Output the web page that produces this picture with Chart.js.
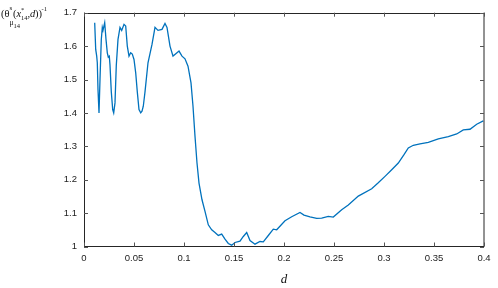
<!DOCTYPE html>
<html>
<head>
<meta charset="utf-8">
<script src="https://cdn.jsdelivr.net/npm/chart.js@4.4.1/dist/chart.umd.min.js"></script>
<style>
  html, body { margin: 0; padding: 0; background: #fff; }
  #wrap { width: 498px; height: 288px; position: relative; }
</style>
</head>
<body>
<div id="wrap"><canvas id="grafico"></canvas></div>
<script>
// distancia d
const dVals = [
  0.0107, 0.0117, 0.0127, 0.0133, 0.014, 0.015, 0.016, 0.0173, 0.0183, 0.019,
  0.0207, 0.022, 0.0233, 0.0243, 0.0253, 0.026, 0.0273, 0.0287, 0.0297, 0.031,
  0.0323, 0.034, 0.036, 0.0377, 0.040, 0.0417, 0.0433, 0.045, 0.0467, 0.0483,
  0.050, 0.0517, 0.0533, 0.055, 0.0567, 0.058, 0.0593, 0.061, 0.064, 0.068,
  0.071, 0.074, 0.078, 0.081, 0.083, 0.086, 0.089, 0.093, 0.095, 0.098,
  0.101, 0.104, 0.107, 0.109, 0.111, 0.113, 0.115, 0.118, 0.121, 0.1243, 0.1277,
  0.131, 0.1343, 0.1377, 0.141, 0.1443, 0.1477, 0.151, 0.156, 0.1593, 0.1627,
  0.166, 0.171, 0.176, 0.1793, 0.1843, 0.1893, 0.1927, 0.201, 0.2077, 0.216,
  0.220, 0.226, 0.2327, 0.2377, 0.2443, 0.2493, 0.2577, 0.2643, 0.2743, 0.2877,
  0.294, 0.301, 0.3077, 0.3143, 0.320, 0.3243, 0.3293, 0.336, 0.3443, 0.3543,
  0.3643, 0.3727, 0.3793, 0.386, 0.3927, 0.3993
];
// (theta^s(x*,d))^-1
const thetaInv = [
  1.67, 1.59, 1.57, 1.55, 1.47, 1.40, 1.50, 1.62, 1.656, 1.647,
  1.67, 1.62, 1.58, 1.567, 1.57, 1.543, 1.463, 1.41, 1.40, 1.43,
  1.543, 1.62, 1.656, 1.647, 1.665, 1.66, 1.60, 1.57, 1.58, 1.576,
  1.56, 1.52, 1.463, 1.41, 1.40, 1.405, 1.42, 1.463, 1.55, 1.605,
  1.656, 1.647, 1.65, 1.668, 1.656, 1.60, 1.57, 1.58, 1.585, 1.57,
  1.562, 1.54, 1.49, 1.42, 1.33, 1.25, 1.19, 1.14, 1.105, 1.065, 1.05,
  1.042, 1.033, 1.037, 1.022, 1.009, 1.004, 1.012, 1.016, 1.03, 1.042,
  1.018, 1.007, 1.015, 1.014, 1.033, 1.052, 1.05, 1.077, 1.089, 1.102,
  1.094, 1.089, 1.084, 1.085, 1.09, 1.088, 1.11, 1.124, 1.151, 1.173,
  1.19, 1.21, 1.23, 1.25, 1.275, 1.295, 1.303, 1.307, 1.312, 1.322,
  1.329, 1.337, 1.349, 1.351, 1.366, 1.376
];
const xTicks = [0, 0.05, 0.1, 0.15, 0.2, 0.25, 0.3, 0.35, 0.4];
const yTicks = [1, 1.1, 1.2, 1.3, 1.4, 1.5, 1.6, 1.7];

const fonteEixo = { family: 'Liberation Sans', size: 9.5 };

// caixa, ticks para dentro e rótulos
const moldura = {
  id: 'moldura',
  afterDraw(chart) {
    const ctx = chart.ctx;
    const a = chart.chartArea;
    const sx = chart.scales.x, sy = chart.scales.y;
    ctx.save();
    ctx.strokeStyle = '#262626';
    ctx.lineWidth = 1;
    ctx.beginPath();
    ctx.moveTo(84.5, a.top); ctx.lineTo(84.5, a.bottom);
    ctx.moveTo(a.left, Math.round(a.top) + 0.5); ctx.lineTo(a.right, Math.round(a.top) + 0.5);
    ctx.stroke();
    ctx.beginPath();
    ctx.moveTo(a.left, a.bottom); ctx.lineTo(a.right, a.bottom);
    ctx.moveTo(a.right, a.top); ctx.lineTo(a.right, a.bottom);
    ctx.stroke();

    ctx.strokeStyle = '#555';
    ctx.beginPath();
    xTicks.forEach(v => {
      const px = Math.round(sx.getPixelForValue(v)) + 0.5;
      ctx.moveTo(px, a.bottom); ctx.lineTo(px, a.bottom - 4);
      ctx.moveTo(px, a.top); ctx.lineTo(px, a.top + 4);
    });
    yTicks.forEach(v => {
      const py = Math.round(sy.getPixelForValue(v)) + 0.5;
      ctx.moveTo(a.left, py); ctx.lineTo(a.left + 4, py);
      ctx.moveTo(a.right, py); ctx.lineTo(a.right - 4, py);
    });
    ctx.stroke();

    // rótulo do eixo y
    ctx.fillStyle = '#111';
    ctx.textBaseline = 'alphabetic';
    ctx.textAlign = 'left';
    const t = (s, x, y, size, italic) => {
      ctx.font = (italic ? 'italic ' : '') + size + 'px "Liberation Serif"';
      ctx.fillText(s, x, y);
    };
    t('(', 1, 17, 10.5);
    t('θ', 4.5, 17, 10.5);
    t('s', 9.5, 10, 7);
    t('μ', 9.5, 25, 7.5);
    t('14', 13.5, 27.5, 6.5);
    t('(', 13, 17, 10.5);
    t('x', 16.5, 17, 10.5, true);
    t('*', 21, 12, 6.5);
    t('14', 21, 20, 6.5);
    t(',', 27.5, 17, 10.5);
    t('d', 30, 17, 10.5, true);
    t('))', 35, 17, 10.5);
    t('-1', 41.5, 10.5, 6.5);

    // rótulo do eixo x
    ctx.textAlign = 'center';
    t('d', 284, 283, 13, true);
    ctx.restore();
  }
};

new Chart(document.getElementById('grafico'), {
  type: 'line',
  data: {
    datasets: [{
      data: dVals.map((d, i) => ({ x: d, y: thetaInv[i] })),
      borderColor: '#0072BD',
      borderWidth: 1.3,
      pointRadius: 0,
      fill: false,
      tension: 0
    }]
  },
  options: {
    responsive: true,
    maintainAspectRatio: false,
    animation: false,
    layout: { padding: { top: 9, right: 14, left: 0, bottom: 0 } },
    plugins: { legend: { display: false }, tooltip: { enabled: false } },
    scales: {
      x: {
        type: 'linear',
        min: 0,
        max: 0.4,
        afterBuildTicks: s => { s.ticks = xTicks.map(v => ({ value: v })); },
        afterFit: s => { s.height = 41.5; },
        grid: { display: false, drawTicks: false },
        border: { display: false },
        ticks: {
          color: '#222',
          font: fonteEixo,
          padding: 6,
          maxRotation: 0,
          autoSkip: false,
          callback: v => String(Number(v.toFixed(3)))
        }
      },
      y: {
        min: 1,
        max: 1.7,
        afterBuildTicks: s => { s.ticks = yTicks.map(v => ({ value: v })); },
        afterFit: s => { s.width = 84; },
        grid: { display: false, drawTicks: false },
        border: { display: false },
        ticks: {
          color: '#222',
          font: fonteEixo,
          padding: 7,
          autoSkip: false,
          callback: v => String(Number(v.toFixed(3)))
        }
      }
    }
  },
  plugins: [moldura]
});
</script>
</body>
</html>
